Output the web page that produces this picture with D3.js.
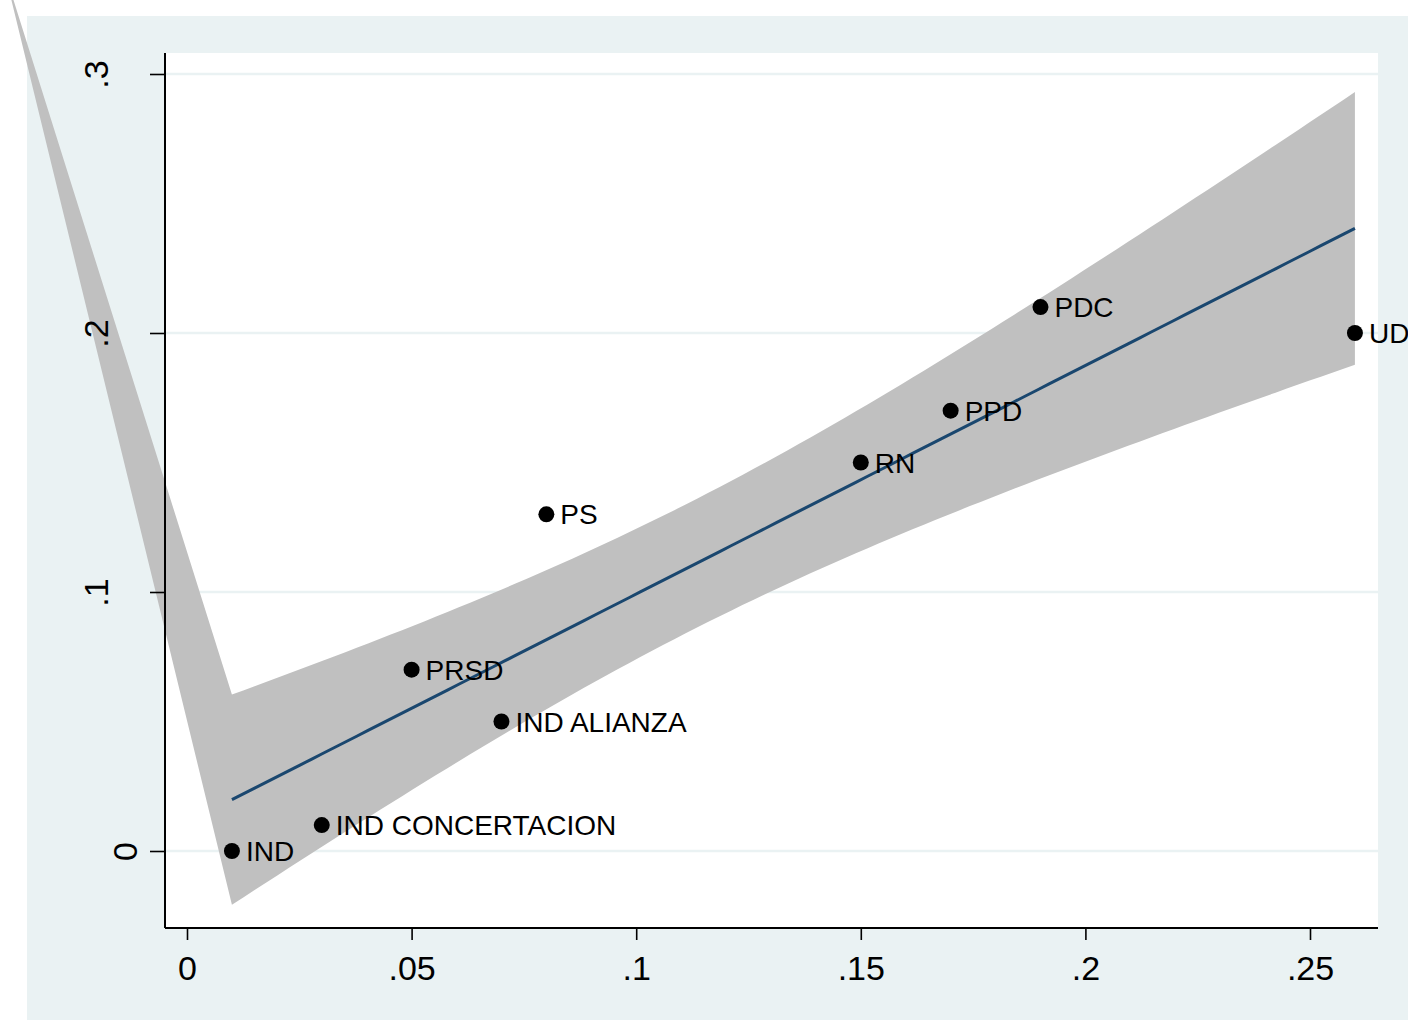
<!DOCTYPE html>
<html>
<head>
<meta charset="utf-8">
<script src="https://cdn.jsdelivr.net/npm/d3@7"></script>
<style>
  html, body { margin: 0; padding: 0; background: #ffffff; }
  svg { display: block; }
  text { font-family: "Liberation Sans", Arial, Helvetica, sans-serif; fill: #000; }
</style>
</head>
<body>
<svg id="chart" width="1408" height="1020"></svg>
<script>
// ---------------- data ----------------
const parties = ["IND", "IND CONCERTACION", "PRSD", "IND ALIANZA", "PS", "RN", "PPD", "PDC", "UDI"];
const xValues = [0.01, 0.03, 0.05, 0.07, 0.08, 0.15, 0.17, 0.19, 0.26];
const yValues = [0.00, 0.01, 0.07, 0.05, 0.13, 0.15, 0.17, 0.21, 0.20];
const xTicks = [0, 0.05, 0.10, 0.15, 0.20, 0.25];
const yTicks = [0, 0.1, 0.2, 0.3];
// stray vertex of the confidence-band polygon (rendering artifact in the original)
const bandStrayVertex = { x: -0.0407, y: 0.340 };
const tCrit = 2.365; // t(0.975, df = 7)

// ---------------- layout ----------------
const W = 1408, H = 1020;
const outer = { left: 27, top: 16 };
const plot = { left: 165, right: 1378, top: 53, bottom: 928 };

const svg = d3.select("#chart");

const x = d3.scaleLinear().domain([0, 0.25]).range([187, 1310]);
const y = d3.scaleLinear().domain([0, 0.3]).range([851, 74]);

const fmt = v => v === 0 ? "0" : d3.format(".2~f")(v).replace(/^0\./, ".");

// backgrounds
svg.append("rect").attr("x", outer.left).attr("y", outer.top)
  .attr("width", W - outer.left).attr("height", H - outer.top)
  .attr("fill", "#EAF2F3");
svg.append("rect").attr("x", plot.left).attr("y", plot.top)
  .attr("width", plot.right - plot.left).attr("height", plot.bottom - plot.top)
  .attr("fill", "#ffffff");

// gridlines
svg.append("g").selectAll("line").data(yTicks).join("line")
  .attr("x1", plot.left).attr("x2", plot.right)
  .attr("y1", d => y(d)).attr("y2", d => y(d))
  .attr("stroke", "#EAF2F3").attr("stroke-width", 2.5);

// ---------------- linear fit with CI ----------------
const n = xValues.length;
const mx = d3.mean(xValues), my = d3.mean(yValues);
let sxx = 0, sxy = 0;
for (let i = 0; i < n; i++) {
  sxx += (xValues[i] - mx) ** 2;
  sxy += (xValues[i] - mx) * (yValues[i] - my);
}
const b1 = sxy / sxx, b0 = my - b1 * mx;
let ssr = 0;
for (let i = 0; i < n; i++) ssr += (yValues[i] - (b0 + b1 * xValues[i])) ** 2;
const s = Math.sqrt(ssr / (n - 2));
const [xmin, xmax] = d3.extent(xValues);
const grid = d3.range(100).map(i => xmin + (xmax - xmin) * i / 99);
const fitPts = grid.map(xv => {
  const yh = b0 + b1 * xv;
  const hw = tCrit * s * Math.sqrt(1 / n + (xv - mx) ** 2 / sxx);
  return { x: xv, y: yh, lo: yh - hw, hi: yh + hw };
});

// band polygon: upper edge left->right, lower edge right->left, stray vertex
const poly = [];
fitPts.forEach(p => poly.push([x(p.x), y(p.hi)]));
fitPts.slice().reverse().forEach(p => poly.push([x(p.x), y(p.lo)]));
poly.push([x(bandStrayVertex.x), y(bandStrayVertex.y)]);
svg.append("path")
  .attr("d", "M" + poly.map(p => p.join(",")).join("L") + "Z")
  .attr("fill", "#C0C0C0").attr("stroke", "none");

// fit line
svg.append("path")
  .datum(fitPts)
  .attr("d", d3.line().x(d => x(d.x)).y(d => y(d.y)))
  .attr("fill", "none").attr("stroke", "#1A476F").attr("stroke-width", 3);

// ---------------- axes ----------------
const xAxis = svg.append("g").attr("transform", `translate(0,${plot.bottom})`)
  .call(d3.axisBottom(x).tickValues(xTicks).tickSize(12).tickSizeOuter(0).tickFormat(fmt));
xAxis.select(".domain").attr("d", `M${plot.left},0H${plot.right}`)
  .attr("stroke", "#000").attr("stroke-width", 2);
xAxis.selectAll(".tick line").attr("stroke", "#000").attr("stroke-width", 1.6);
xAxis.selectAll(".tick text").attr("y", 52).attr("dy", 0)
  .style("font-size", "34px").attr("fill", "#000");

const yAxis = svg.append("g").attr("transform", `translate(${plot.left},0)`)
  .call(d3.axisLeft(y).tickValues(yTicks).tickSize(15).tickSizeOuter(0).tickFormat(fmt));
yAxis.select(".domain").attr("d", `M0,${plot.top}V${plot.bottom}`)
  .attr("stroke", "#000").attr("stroke-width", 2);
yAxis.selectAll(".tick line").attr("stroke", "#000").attr("stroke-width", 1.6);
yAxis.selectAll(".tick text")
  .attr("x", null).attr("dy", null)
  .attr("text-anchor", "middle")
  .attr("transform", function(d) {
    const lbl = fmt(d);
    const bx = 137 - 29 * (lbl.length - 1) - plot.left;
    return `translate(${bx},0) rotate(-90)`;
  })
  .style("font-size", "34px").attr("fill", "#000");

// ---------------- points & labels ----------------
const pts = parties.map((p, i) => ({ name: p, x: xValues[i], y: yValues[i] }));
svg.append("g").selectAll("circle").data(pts).join("circle")
  .attr("cx", d => x(d.x)).attr("cy", d => y(d.y)).attr("r", 8)
  .attr("fill", "#000");
svg.append("g").selectAll("text").data(pts).join("text")
  .attr("x", d => x(d.x) + 14).attr("y", d => y(d.y) + 10)
  .style("font-size", "28px")
  .text(d => d.name);
</script>
</body>
</html>
